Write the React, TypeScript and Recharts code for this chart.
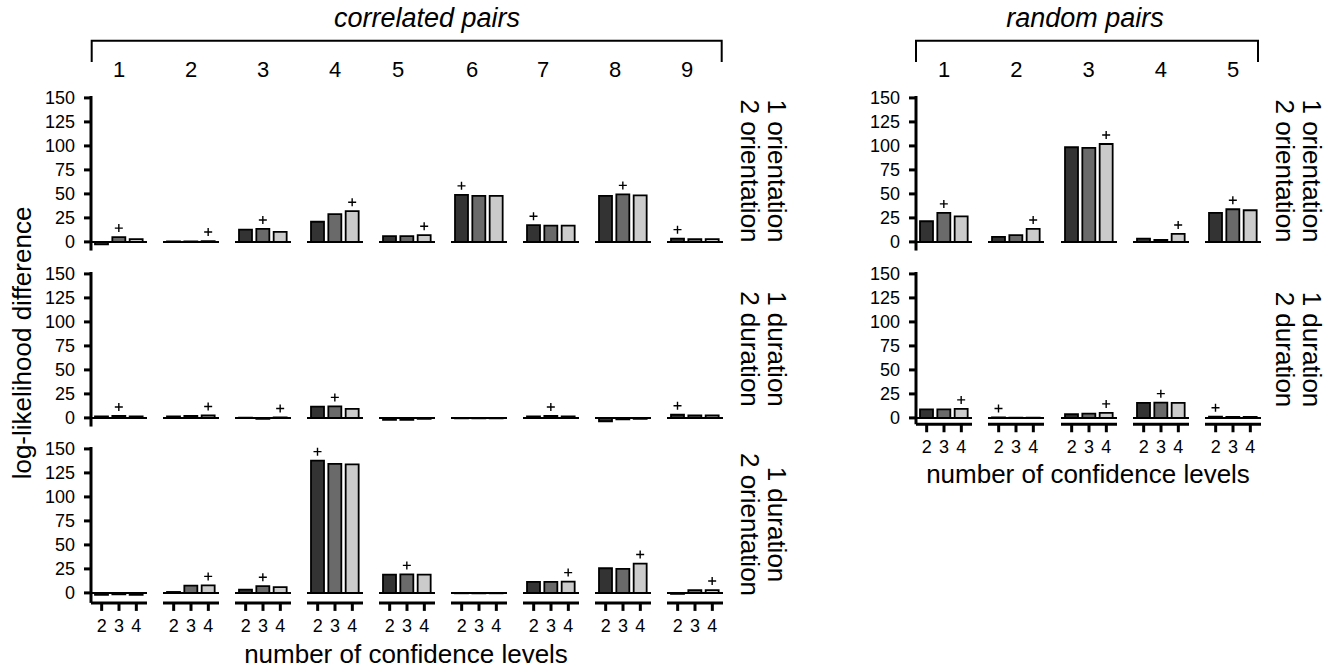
import React from 'react'
import { BarChart, Bar, XAxis, YAxis, Cell, LabelList, ReferenceLine } from 'recharts'

// x categories inside every panel
const CONF_LEVELS = ['2', '3', '4']
const CORR_PAIRS = ['1', '2', '3', '4', '5', '6', '7', '8', '9']
const RAND_PAIRS = ['1', '2', '3', '4', '5']
const Y_TICKS = [0, 25, 50, 75, 100, 125, 150]

// log-likelihood difference per pair, for 2 / 3 / 4 confidence levels
const corrOriOri = [
  [-2.5, 5, 3],
  [0.4, 0.5, 0.9],
  [12.8, 13.5, 10.4],
  [21, 29, 32],
  [6, 6, 7],
  [49, 48, 48],
  [17.4, 17, 17],
  [48, 49.5, 48.5],
  [3.4, 3, 3],
]
const corrDurDur = [
  [1.5, 2, 1.5],
  [1.5, 2, 2.5],
  [0.2, -1, 0.5],
  [11.8, 12, 9.4],
  [-2, -2, -1],
  [-0.5, -0.5, -0.5],
  [1.5, 2, 1.5],
  [-3.5, -1.5, -1],
  [3.3, 2.5, 2.5],
]
const corrDurOri = [
  [-2, -1.5, -2],
  [1, 7.6, 7.8],
  [3.5, 7, 6],
  [137.8, 134.4, 134],
  [19, 19.3, 19],
  [-0.4, -0.4, -0.4],
  [11.4, 11.5, 11.8],
  [25.7, 25, 30.6],
  [-1, 2.8, 3],
]
const randOriOri = [
  [21.5, 30.2, 26.7],
  [5.2, 7, 13.5],
  [98.6, 97.9, 102],
  [3.5, 2, 8.3],
  [30.2, 34, 33],
]
const randDurDur = [
  [9, 9, 9.4],
  [0.5, 0.3, 0.3],
  [3.8, 4.5, 5.2],
  [15.6, 15.9, 15.6],
  [1.2, 1, 1],
]

const BAR_COLORS = ['#333333', '#6a6a6a', '#cbcbcb']
const FONT = '"Liberation Sans", Arial, Helvetica, sans-serif'

const PANEL_W = 56
const Y_MAX = 152
const PX_PER_UNIT = 0.96
const Y_AXIS_W = 60
const X_AXIS_H = 42

// "+" goes over the best (largest positive) model
function bestIndex(vals: number[]) {
  let best = -1
  let bv = 0
  vals.forEach((v, i) => {
    if (v > bv) {
      bv = v
      best = i
    }
  })
  return best
}

const plusLabel = (best: number) => (props: any) => {
  const { x, y, width, height, index } = props
  if (index !== best) return null
  const top = Math.min(Number(y), Number(y) + Number(height))
  const cx = Number(x) + Number(width) / 2
  const cy = top - 9
  return (
    <path
      d={`M${cx - 4} ${cy} H${cx + 4} M${cx} ${cy - 4} V${cy + 4}`}
      stroke="#000"
      strokeWidth={1.4}
      fill="none"
    />
  )
}

interface PanelProps {
  values: number[]
  left: number
  zero: number
  yMin: number
  showY: boolean
  showX: boolean
}

function Panel({ values, left, zero, yMin, showY, showX }: PanelProps) {
  const data = CONF_LEVELS.map((c, i) => ({ level: c, v: values[i] }))
  const yw = showY ? Y_AXIS_W : 0
  const xh = showX ? X_AXIS_H : 0
  const top = zero - Y_MAX * PX_PER_UNIT
  const plotH = (Y_MAX - yMin) * PX_PER_UNIT
  const best = bestIndex(values)
  return (
    <div style={{ position: 'absolute', left: left - yw, top }}>
      <BarChart
        width={PANEL_W + yw}
        height={plotH + xh}
        data={data}
        margin={{ top: 0, right: 0, bottom: 0, left: 0 }}
        barSize={13}
        style={{ overflow: 'visible' }}
      >
        <XAxis
          dataKey="level"
          hide={!showX}
          height={X_AXIS_H}
          interval={0}
          padding={{ left: 2, right: 2 }}
          axisLine={{ stroke: '#000', strokeWidth: 3 }}
          tickLine={{ stroke: '#000', strokeWidth: 3 }}
          tickSize={8}
          tickMargin={8}
          tick={{ fill: '#000', fontSize: 18, fontFamily: FONT }}
        />
        <YAxis
          type="number"
          domain={[yMin, Y_MAX]}
          allowDataOverflow
          ticks={Y_TICKS}
          interval={0}
          hide={!showY}
          width={Y_AXIS_W}
          axisLine={{ stroke: '#000', strokeWidth: 3 }}
          tickLine={{ stroke: '#000', strokeWidth: 3 }}
          tickSize={7}
          tickMargin={9}
          tick={{ fill: '#000', fontSize: 18, fontFamily: FONT }}
        />
        <Bar dataKey="v" isAnimationActive={false} stroke="#000" strokeWidth={1.8}>
          {data.map((d, i) => (
            <Cell key={d.level} fill={BAR_COLORS[i]} />
          ))}
          <LabelList dataKey="v" content={plusLabel(best)} />
        </Bar>
        <ReferenceLine y={0} stroke="#000" strokeWidth={2} ifOverflow="visible" />
      </BarChart>
    </div>
  )
}

const LEFT_X0 = 91
const LEFT_PITCH = 72
const RIGHT_X0 = 916
const RIGHT_PITCH = 72.25

const leftRows = [
  { vals: corrOriOri, zero: 242.3, yMin: -9, labels: ['1 orientation', '2 orientation'], cy: 171 },
  { vals: corrDurDur, zero: 417.7, yMin: -9, labels: ['1 duration', '2 duration'], cy: 349 },
  { vals: corrDurOri, zero: 593.3, yMin: -10.4, labels: ['1 duration', '2 orientation'], cy: 524.5 },
]
const rightRows = [
  { vals: randOriOri, zero: 242.3, yMin: -9, labels: ['1 orientation', '2 orientation'], cy: 171 },
  { vals: randDurDur, zero: 417.7, yMin: -6.6, labels: ['1 duration', '2 duration'], cy: 349.5 },
]

// header digits 5-9 of the left block sit a little left of their panels in the original
const LEFT_HEADER_X = [119, 191, 263, 335, 398, 472, 543, 615, 687]

function RowLabel({ x, cy, labels }: { x: number; cy: number; labels: string[] }) {
  return (
    <g>
      {labels.map((t, i) => (
        <text
          key={t + i}
          transform={`translate(${x - i * 27},${cy}) rotate(90)`}
          textAnchor="middle"
          fontSize={26}
          fill="#000"
        >
          {t}
        </text>
      ))}
    </g>
  )
}

export default function App() {
  return (
    <div style={{ position: 'absolute', left: 0, top: 0, width: 1338, height: 670, background: '#fff', fontFamily: FONT }}>
      <style>{'.recharts-surface{overflow:visible}.recharts-wrapper{overflow:visible}'}</style>
      {leftRows.map((row, r) =>
        row.vals.map((vals, p) => (
          <Panel
            key={`l${r}-${p}`}
            values={vals}
            left={LEFT_X0 + p * LEFT_PITCH}
            zero={row.zero}
            yMin={row.yMin}
            showY={p === 0}
            showX={r === leftRows.length - 1}
          />
        ))
      )}
      {rightRows.map((row, r) =>
        row.vals.map((vals, p) => (
          <Panel
            key={`r${r}-${p}`}
            values={vals}
            left={RIGHT_X0 + p * RIGHT_PITCH}
            zero={row.zero}
            yMin={row.yMin}
            showY={p === 0}
            showX={r === rightRows.length - 1}
          />
        ))
      )}
      <svg width={1338} height={670} style={{ position: 'absolute', left: 0, top: 0, pointerEvents: 'none' }} fontFamily={FONT}>
        <text x={427} y={27} textAnchor="middle" fontSize={27} fontStyle="italic" fill="#000">
          correlated pairs
        </text>
        <text x={1085} y={27} textAnchor="middle" fontSize={27} fontStyle="italic" fill="#000">
          random pairs
        </text>
        <path d="M91.7 62 V40.7 H721.7 V62" fill="none" stroke="#000" strokeWidth={2} />
        <path d="M916 62 V40.7 H1258 V62" fill="none" stroke="#000" strokeWidth={2} />
        {CORR_PAIRS.map((c, i) => (
          <text key={'ch' + c} x={LEFT_HEADER_X[i]} y={77} textAnchor="middle" fontSize={22} fill="#000">
            {c}
          </text>
        ))}
        {RAND_PAIRS.map((c, i) => (
          <text key={'rh' + c} x={RIGHT_X0 + i * RIGHT_PITCH + PANEL_W / 2} y={77} textAnchor="middle" fontSize={22} fill="#000">
            {c}
          </text>
        ))}
        {leftRows.map((row, r) => (
          <RowLabel key={'lr' + r} x={768} cy={row.cy} labels={row.labels} />
        ))}
        {rightRows.map((row, r) => (
          <RowLabel key={'rr' + r} x={1303} cy={row.cy} labels={row.labels} />
        ))}
        <text transform="translate(31,343) rotate(-90)" textAnchor="middle" fontSize={26} fill="#000">
          log-likelihood difference
        </text>
        <text x={406} y={663} textAnchor="middle" fontSize={26} fill="#000">
          number of confidence levels
        </text>
        <text x={1088} y={483} textAnchor="middle" fontSize={26} fill="#000">
          number of confidence levels
        </text>
      </svg>
    </div>
  )
}
